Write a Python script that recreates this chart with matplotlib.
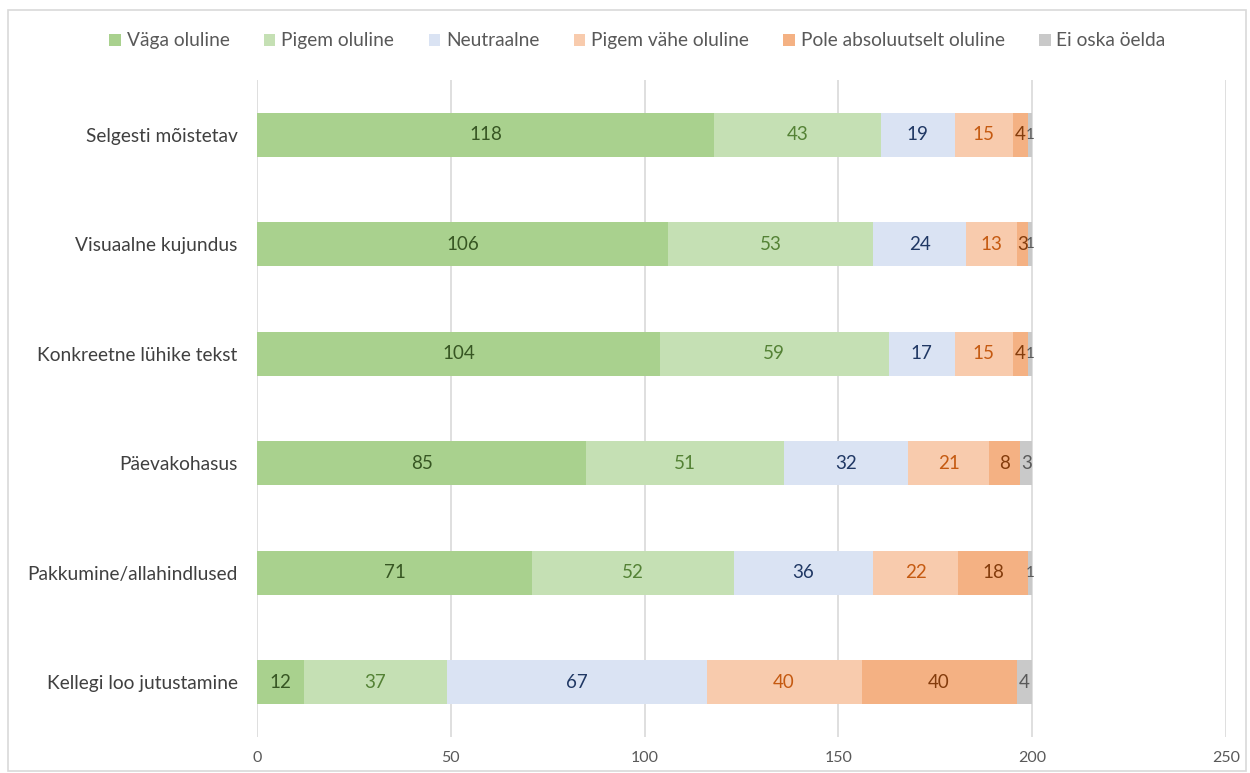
import matplotlib
matplotlib.use("Agg")
import matplotlib.pyplot as plt
from matplotlib.patches import Rectangle
import numpy as np

plt.rcParams['font.family'] = ['Lato', 'DejaVu Sans']

categories = ["Selgesti mõistetav", "Visuaalne kujundus", "Konkreetne lühike tekst",
              "Päevakohasus", "Pakkumine/allahindlused", "Kellegi loo jutustamine"]
series_names = ["Väga oluline", "Pigem oluline", "Neutraalne", "Pigem vähe oluline",
                "Pole absoluutselt oluline", "Ei oska öelda"]
vaga = [118, 106, 104, 85, 71, 12]
pigem = [43, 53, 59, 51, 52, 37]
neutraalne = [19, 24, 17, 32, 36, 67]
pigem_vahe = [15, 13, 15, 21, 22, 40]
pole = [4, 3, 4, 8, 18, 40]
ei_oska = [1, 1, 1, 3, 1, 4]
series = [vaga, pigem, neutraalne, pigem_vahe, pole, ei_oska]
xticks = [0, 50, 100, 150, 200, 250]

colors = ["#A9D18E", "#C5E0B4", "#DAE3F3", "#F8CBAD", "#F4B183", "#C9C9C9"]
label_colors = ["#375623", "#548235", "#203864", "#C55A11", "#843C0C", "#595959"]

fig = plt.figure(figsize=(12.5, 7.73), dpi=100)
ax = fig.add_axes([0.2056, 36 / 773, 0.775, 657 / 773])

y = np.arange(len(categories))
left = np.zeros(len(categories))
handles = []
for name, vals, c, lc in zip(series_names, series, colors, label_colors):
    vals = np.array(vals, dtype=float)
    b = ax.barh(y, vals, left=left, height=0.4, color=c, label=name, zorder=3)
    handles.append(b)
    for yi, l, v in zip(y, left, vals):
        fs = 13.5 if v >= 3 else 11
        ax.text(l + v / 2, yi, f"{int(v)}", ha="center", va="center",
                color=lc, fontsize=fs, zorder=4)
    left += vals

ax.set_xlim(0, 250)
ax.set_ylim(len(categories) - 0.5, -0.5)
ax.set_yticks(y)
ax.set_yticklabels(categories, fontsize=13.8, color="#404040")
ax.set_xticks(xticks)
ax.set_xticklabels([str(t) for t in xticks], fontsize=11.5, color="#595959")
ax.tick_params(axis="both", length=0)
ax.tick_params(axis="x", pad=10)
ax.tick_params(axis="y", pad=14)
ax.grid(axis="x", color="#D9D9D9", linewidth=1.2, zorder=0)
for s in ax.spines.values():
    s.set_visible(False)

fig.legend(handles=handles, labels=series_names, loc="center", bbox_to_anchor=(0.510, 0.947),
           ncol=6, frameon=False, fontsize=13.8, handlelength=0.6, handleheight=0.6,
           handletextpad=0.3, columnspacing=1.8, labelcolor="#595959")

fig.patches.append(Rectangle((8 / 1250, 2 / 773), 1238 / 1250, 761 / 773,
                             transform=fig.transFigure, fill=False,
                             edgecolor="#D9D9D9", linewidth=1.2))

fig.savefig("out.png", dpi=100)
